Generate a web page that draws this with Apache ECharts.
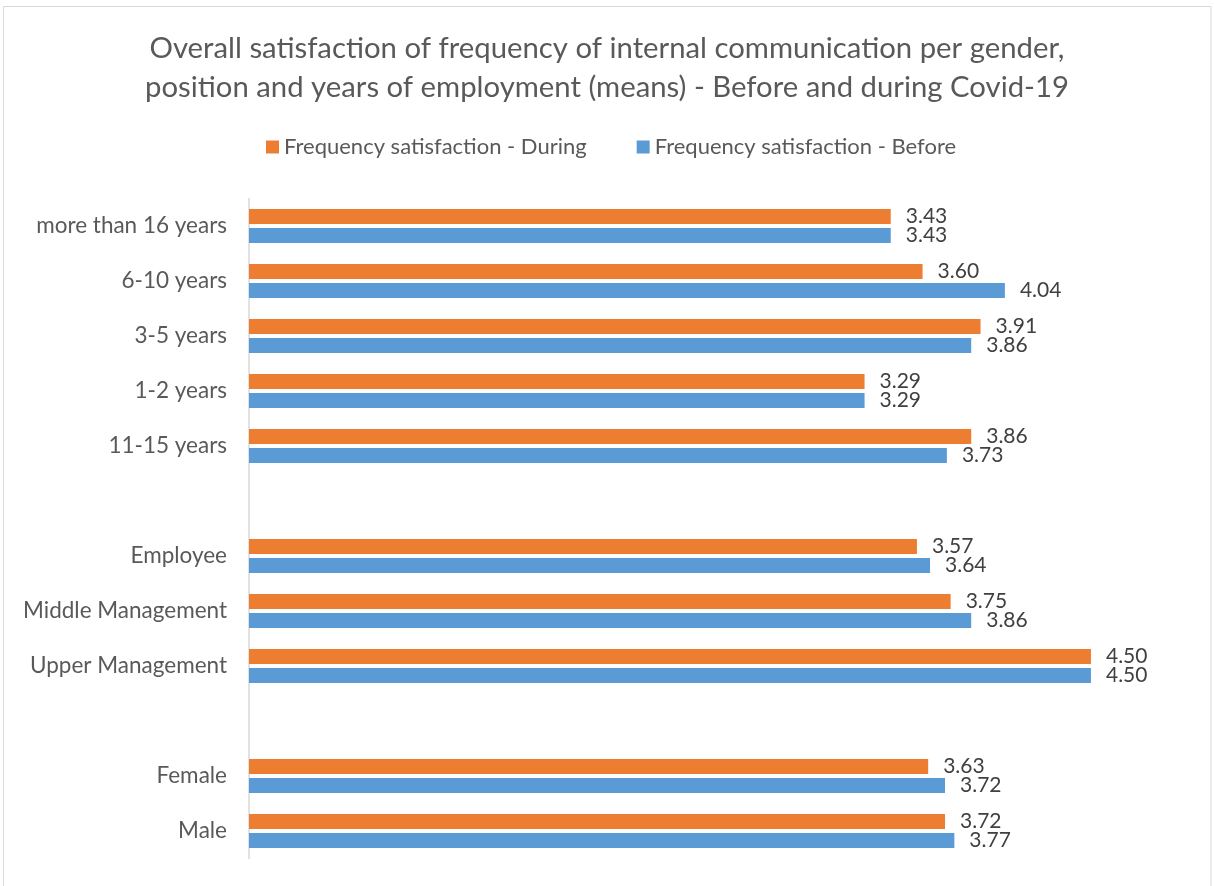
<!DOCTYPE html>
<html>
<head>
<meta charset="utf-8">
<title>Frequency satisfaction</title>
<script src="https://cdn.jsdelivr.net/npm/echarts@6/dist/echarts.min.js"></script>
<style>
  html, body { margin: 0; padding: 0; background: #fff; }
  #chart { width: 1214px; height: 886px; }
</style>
</head>
<body>
<div id="chart"></div>
<script>
// Categories listed bottom to top; blank entries separate the groups
const categories = [
  'Male', 'Female', ' ',
  'Upper Management', 'Middle Management', 'Employee', '  ',
  '11-15 years', '1-2 years', '3-5 years', '6-10 years', 'more than 16 years'
];
const duringValues = [3.72, 3.63, null, 4.50, 3.75, 3.57, null, 3.86, 3.29, 3.91, 3.60, 3.43];
const beforeValues = [3.77, 3.72, null, 4.50, 3.86, 3.64, null, 3.73, 3.29, 3.86, 4.04, 3.43];
const seriesNames = ['Frequency satisfaction - During', 'Frequency satisfaction - Before'];
const titleText = 'Overall satisfaction of frequency of internal communication per gender,\nposition and years of employment (means) - Before and during Covid-19';

const FONT = 'Lato, "Open Sans", sans-serif';
const chart = echarts.init(document.getElementById('chart'), null, { renderer: 'canvas' });

const labelCfg = {
  show: true,
  position: 'right',
  distance: 15,
  color: '#404040',
  fontFamily: FONT,
  fontSize: 21,
  formatter: p => (p.value == null ? '' : Number(p.value).toFixed(2))
};

chart.setOption({
  backgroundColor: '#ffffff',
  animation: false,
  graphic: [{
    type: 'rect',
    shape: { x: 3.5, y: 6.5, width: 1207.5, height: 890 },
    style: { fill: 'none', stroke: '#d9d9d9', lineWidth: 1 },
    silent: true
  }],
  title: {
    text: titleText,
    left: 'center',
    top: 24,
    textStyle: {
      color: '#595959',
      fontFamily: FONT,
      fontWeight: 'normal',
      fontSize: 29.3,
      lineHeight: 39
    }
  },
  legend: {
    data: seriesNames,
    top: 131,
    left: 261,
    itemWidth: 13,
    itemHeight: 13,
    itemGap: 50,
    icon: 'rect',
    textStyle: { color: '#595959', fontFamily: FONT, fontSize: 22 }
  },
  grid: {
    left: 249,
    top: 198.5,
    width: 935.5,
    height: 660,
    containLabel: false
  },
  xAxis: {
    type: 'value',
    min: 0,
    max: 5,
    show: false
  },
  yAxis: {
    type: 'category',
    data: categories,
    axisLine: { show: true, lineStyle: { color: '#d9d9d9', width: 1.5 } },
    axisTick: { show: false },
    splitLine: { show: false },
    axisLabel: {
      color: '#595959',
      fontFamily: FONT,
      fontSize: 22.5,
      margin: 22
    }
  },
  series: [
    {
      name: seriesNames[0],
      type: 'bar',
      data: duringValues,
      barWidth: 15,
      barGap: '27%',
      itemStyle: { color: '#ED7D31' },
      label: labelCfg
    },
    {
      name: seriesNames[1],
      type: 'bar',
      data: beforeValues,
      barWidth: 15,
      barGap: '27%',
      itemStyle: { color: '#5B9BD5' },
      label: labelCfg
    }
  ]
});
</script>
</body>
</html>
